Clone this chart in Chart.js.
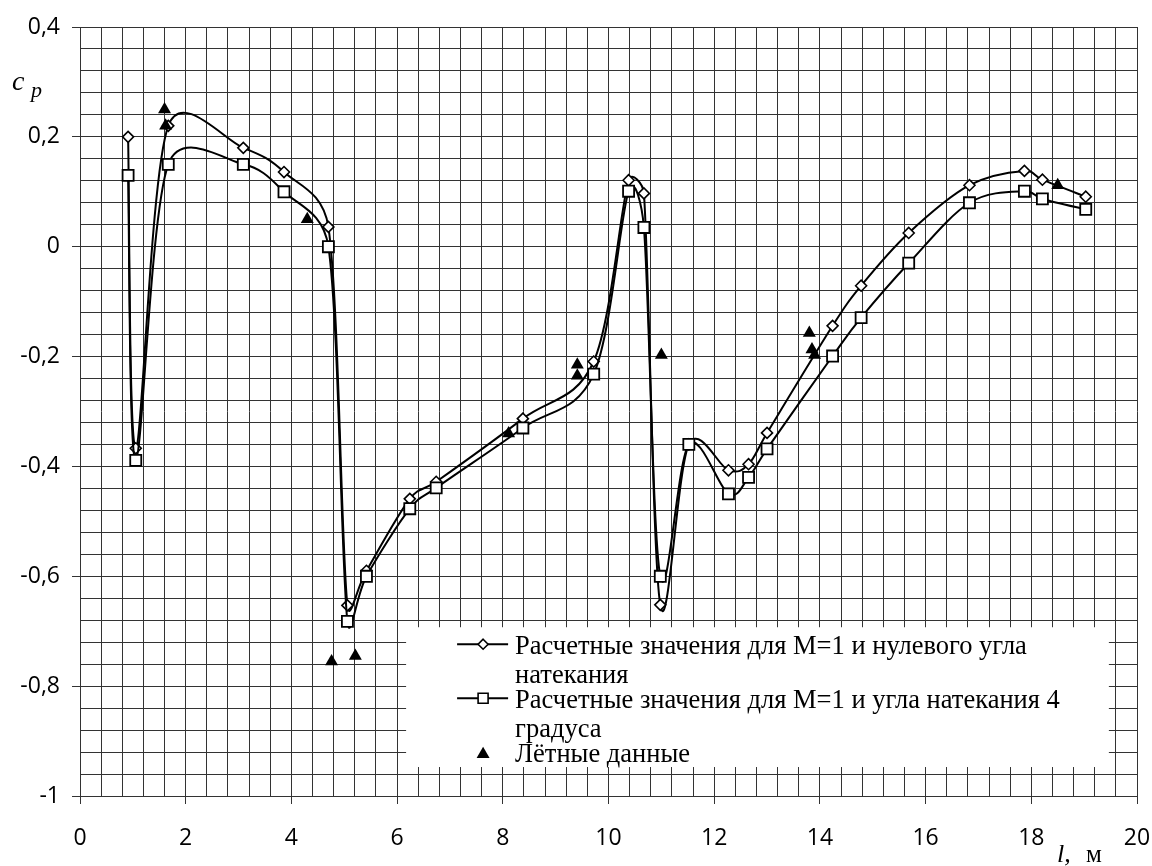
<!DOCTYPE html>
<html>
<head>
<meta charset="utf-8">
<script src="https://cdn.jsdelivr.net/npm/chart.js@4.4.0/dist/chart.umd.min.js"></script>
<style>
  html, body { margin: 0; padding: 0; background: #fff; }
</style>
</head>
<body>
<canvas id="cp-chart" width="1152" height="866"></canvas>
<script>
// Stations along the body, m
var stations = [0.91, 1.055, 1.67, 3.09, 3.86, 4.70, 5.06, 5.42, 6.24, 6.74, 8.38, 9.72, 10.38,
                10.67, 10.98, 11.52, 12.27, 12.65, 13.0, 14.24, 14.78, 15.68, 16.83, 17.87, 18.21, 19.03];

// Calculated cp, M=1, zero flow angle
var cpZero = [0.2, -0.367, 0.22, 0.18, 0.136, 0.036, -0.653, -0.59, -0.459, -0.428, -0.313, -0.209, 0.121,
              0.097, -0.652, -0.36, -0.407, -0.396, -0.339, -0.144, -0.071, 0.025, 0.112, 0.138, 0.122, 0.091];

// Calculated cp, M=1, flow angle 4 deg
var cpFour = [0.13, -0.389, 0.15, 0.15, 0.1, 0.0, -0.682, -0.6, -0.477, -0.439, -0.33, -0.232, 0.101,
              0.035, -0.6, -0.36, -0.45, -0.42, -0.368, -0.199, -0.129, -0.03, 0.08, 0.101, 0.087, 0.068];

// Flight test points
var flightL  = [1.6, 1.62, 4.3, 4.76, 5.21, 8.11, 9.41, 9.41, 11.0, 13.8, 13.85, 13.9, 18.5];
var flightCp = [0.25, 0.22, 0.05, -0.755, -0.745, -0.34, -0.215, -0.235, -0.197, -0.157, -0.187, -0.197, 0.112];

var legendLines = [
    ['Расчетные значения для М=1 и нулевого угла', 'натекания'],
    ['Расчетные значения для М=1 и угла натекания 4', 'градуса'],
    ['Лётные данные']
];

var xLabelStep = 2;
var yLabelStep = 0.2;

var gridColor = '#333';
var tickFont = { family: '"Open Sans", "Noto Sans", sans-serif', size: 23 };
var serif = '"Liberation Serif", "Times New Roman", serif';

function toPoints(xs, ys) {
    return xs.map(function(x, i) { return { x: x, y: ys[i] }; });
}

function isMultiple(v, step) {
    var r = v / step;
    return Math.abs(r - Math.round(r)) < 1e-6;
}

function fmt(v) {
    var r = Math.round(v * 10) / 10;
    if (r === 0) return '0';
    return String(r).replace('.', ',');
}

/* spreadsheet-style smoothing: catmull-rom arms, clipped to half the neighbouring segment */
function smoothPoints(pts) {
    for (var i = 0; i < pts.length; i++) {
        var p = pts[i];
        var prev = pts[i - 1] || p;
        var next = pts[i + 1] || p;
        var dx = (next.x - prev.x) / 6;
        var dy = (next.y - prev.y) / 6;
        var arm = Math.hypot(dx, dy) || 1;
        var kPrev = Math.min(1, 0.5 * Math.hypot(p.x - prev.x, p.y - prev.y) / arm);
        var kNext = Math.min(1, 0.5 * Math.hypot(next.x - p.x, next.y - p.y) / arm);
        p.cp1x = p.x - dx * kPrev;
        p.cp1y = p.y - dy * kPrev;
        p.cp2x = p.x + dx * kNext;
        p.cp2y = p.y + dy * kNext;
    }
}

var smoothing = {
    id: 'smoothing',
    beforeDatasetDraw: function(chart, args) {
        var meta = args.meta;
        if (!meta.dataset || !meta.dataset.options.tension) return;
        meta.dataset.updateControlPoints(chart.chartArea);
        smoothPoints(meta.data);
    }
};

/* legend marker shapes */
function markDiamond(ctx, x, y, r) {
    ctx.beginPath();
    ctx.moveTo(x, y - r); ctx.lineTo(x + r, y); ctx.lineTo(x, y + r); ctx.lineTo(x - r, y);
    ctx.closePath();
    ctx.fillStyle = '#fff'; ctx.fill(); ctx.stroke();
}
function markSquare(ctx, x, y, h) {
    ctx.beginPath();
    ctx.rect(x - h, y - h, 2 * h, 2 * h);
    ctx.fillStyle = '#fff'; ctx.fill(); ctx.stroke();
}
function markTriangle(ctx, x, y, r) {
    ctx.beginPath();
    ctx.moveTo(x, y - r);
    ctx.lineTo(x + r * 0.866, y + r * 0.5);
    ctx.lineTo(x - r * 0.866, y + r * 0.5);
    ctx.closePath();
    ctx.fillStyle = '#000'; ctx.fill();
}

var decorations = {
    id: 'decorations',
    beforeDraw: function(chart) {
        var ctx = chart.ctx;
        ctx.save();
        ctx.fillStyle = '#fff';
        ctx.fillRect(0, 0, chart.width, chart.height);
        ctx.restore();
    },
    afterDraw: function(chart) {
        var ctx = chart.ctx;
        var xs = chart.scales.x, ys = chart.scales.y;
        ctx.save();

        // axis titles
        ctx.fillStyle = '#000';
        ctx.textBaseline = 'alphabetic';
        ctx.font = 'italic 28px ' + serif;
        ctx.fillText('c', 12, 90);
        ctx.font = 'italic 22px ' + serif;
        ctx.fillText('p', 31, 97);
        ctx.font = 'italic 26px ' + serif;
        ctx.fillText('l,', 1057, 862);
        ctx.font = '25px ' + serif;
        ctx.fillText('м', 1086, 862);

        // legend box
        var left = xs.getPixelForValue(6) + 9;
        var right = xs.getPixelForValue(19.6) - 7;
        var top = ys.getPixelForValue(-0.68) + 7;
        var bottom = ys.getPixelForValue(-0.96) - 7;
        ctx.fillStyle = '#fff';
        ctx.fillRect(left, top, right - left, bottom - top);

        ctx.font = '26.5px ' + serif;
        ctx.strokeStyle = '#000';
        ctx.lineWidth = 2;
        legendLines.forEach(function(lines, i) {
            var base = top + 27 + i * 54;
            var sy = base - 10;
            var sx = left + 77;
            if (i < 2) {
                ctx.beginPath();
                ctx.moveTo(left + 51, sy);
                ctx.lineTo(left + 102, sy);
                ctx.stroke();
                ctx.lineWidth = 1.6;
                if (i === 0) markDiamond(ctx, sx, sy, 5);
                else markSquare(ctx, sx, sy, 5);
                ctx.lineWidth = 2;
            } else {
                markTriangle(ctx, sx, sy + 2, 7.5);
            }
            ctx.fillStyle = '#000';
            lines.forEach(function(t, j) {
                ctx.fillText(t, left + 109, base + j * 29);
            });
        });
        ctx.restore();
    }
};

var ctx = document.getElementById('cp-chart').getContext('2d');

var chart = new Chart(ctx, {
    type: 'line',
    data: {
        datasets: [{
            label: legendLines[0].join(' '),
            data: toPoints(stations, cpZero),
            borderColor: '#000',
            borderWidth: 2,
            tension: 0.5,
            fill: false,
            pointStyle: 'rectRot',
            pointRadius: 5.5,
            pointBorderWidth: 1.6,
            pointBackgroundColor: '#fff',
            pointBorderColor: '#000',
            order: 3
        }, {
            label: legendLines[1].join(' '),
            data: toPoints(stations, cpFour),
            borderColor: '#000',
            borderWidth: 2,
            tension: 0.5,
            fill: false,
            pointStyle: 'rect',
            pointRadius: 7.8,
            pointBorderWidth: 1.8,
            pointBackgroundColor: '#fff',
            pointBorderColor: '#000',
            order: 2
        }, {
            label: legendLines[2][0],
            data: toPoints(flightL, flightCp),
            showLine: false,
            pointStyle: 'triangle',
            pointRadius: 7.5,
            pointBorderWidth: 0,
            pointBackgroundColor: '#000',
            pointBorderColor: '#000',
            order: 1
        }]
    },
    options: {
        responsive: false,
        animation: false,
        layout: { padding: { top: 27, right: 15, left: 0, bottom: 0 } },
        plugins: {
            legend: { display: false },
            tooltip: { enabled: false }
        },
        scales: {
            x: {
                type: 'linear',
                min: 0,
                max: 20,
                afterFit: function(s) {
                    s.height = 70;
                    s.paddingLeft = 0;
                    s.paddingRight = 0;
                },
                border: { color: gridColor, width: 1 },
                grid: {
                    color: gridColor,
                    lineWidth: 1,
                    tickLength: 8,
                    tickColor: function(c) {
                        return c.tick && isMultiple(c.tick.value, xLabelStep) ? gridColor : 'rgba(0,0,0,0)';
                    }
                },
                ticks: {
                    stepSize: 0.4,
                    autoSkip: false,
                    maxRotation: 0,
                    minRotation: 0,
                    padding: 21,
                    color: '#000',
                    font: tickFont,
                    callback: function(v) { return isMultiple(v, xLabelStep) ? String(Math.round(v)) : ''; }
                }
            },
            y: {
                min: -1,
                max: 0.4,
                afterFit: function(s) { s.width = 80; },
                border: { color: gridColor, width: 1 },
                grid: {
                    color: gridColor,
                    lineWidth: 1,
                    tickLength: 8,
                    tickColor: function(c) {
                        return c.tick && isMultiple(c.tick.value, yLabelStep) ? gridColor : 'rgba(0,0,0,0)';
                    }
                },
                ticks: {
                    stepSize: 0.04,
                    autoSkip: false,
                    padding: 12,
                    color: '#000',
                    font: tickFont,
                    callback: function(v) { return isMultiple(v, yLabelStep) ? fmt(v) : ''; }
                }
            }
        }
    },
    plugins: [smoothing, decorations]
});
</script>
</body>
</html>
